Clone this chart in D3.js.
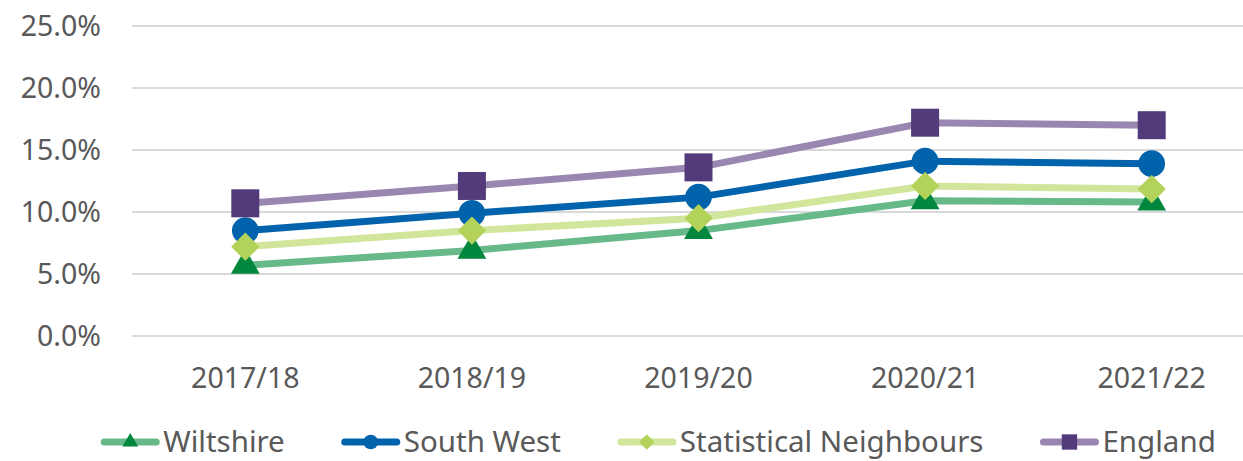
<!DOCTYPE html>
<html>
<head>
<meta charset="utf-8">
<script src="https://cdn.jsdelivr.net/npm/d3@7"></script>
<style>
  body { margin: 0; background: #fff; }
  text { font-family: "Noto Sans", "Open Sans", sans-serif; fill: #595959; }
</style>
</head>
<body>
<svg width="1243" height="461"></svg>
<script>
var years = ["2017/18", "2018/19", "2019/20", "2020/21", "2021/22"];
var wiltshire = [5.7, 6.9, 8.5, 10.9, 10.8];
var southWest = [8.5, 9.9, 11.2, 14.1, 13.9];
var statNeighbours = [7.2, 8.5, 9.5, 12.1, 11.85];
var england = [10.7, 12.1, 13.6, 17.2, 17.0];
var yTicks = [0, 5, 10, 15, 20, 25];

var series = [
  {name: "Wiltshire", values: wiltshire, line: "#67b98a", marker: "#00873e", symbol: d3.symbolTriangle, size: 360, rot: 0},
  {name: "South West", values: southWest, line: "#0063ab", marker: "#0063ab", symbol: d3.symbolCircle, size: 560, rot: 0},
  {name: "Statistical Neighbours", values: statNeighbours, line: "#d2e69b", marker: "#b3d25a", symbol: d3.symbolSquare, size: 400, rot: 45},
  {name: "England", values: england, line: "#9a87b1", marker: "#533a7b", symbol: d3.symbolSquare, size: 784, rot: 0}
];

var svg = d3.select("svg"),
    width = +svg.attr("width"),
    height = +svg.attr("height");

var x = d3.scalePoint()
    .domain(years)
    .range([132, 1265])
    .padding(0.5);

var y = d3.scaleLinear()
    .domain([0, 25])
    .range([336, 26]);

// gridlines
svg.append("g")
  .selectAll("line")
  .data(yTicks)
  .enter().append("line")
    .attr("x1", 132)
    .attr("x2", width)
    .attr("y1", function(d){ return y(d); })
    .attr("y2", function(d){ return y(d); })
    .attr("stroke", "#d9d9d9")
    .attr("stroke-width", 2);

// y labels
svg.append("g")
  .selectAll("text")
  .data(yTicks)
  .enter().append("text")
    .attr("x", 101)
    .attr("y", function(d){ return y(d); })
    .attr("dy", "0.35em")
    .attr("text-anchor", "end")
    .attr("font-size", "28.5px")
    .text(function(d){ return d.toFixed(1) + "%"; });

// x labels
svg.append("g")
  .selectAll("text")
  .data(years)
  .enter().append("text")
    .attr("x", function(d){ return x(d); })
    .attr("y", 378)
    .attr("dy", "0.35em")
    .attr("text-anchor", "middle")
    .attr("font-size", "28.5px")
    .text(function(d){ return d; });

var line = d3.line()
    .x(function(d, i){ return x(years[i]); })
    .y(function(d){ return y(d); });

series.forEach(function(s) {
  var g = svg.append("g");
  g.append("path")
      .attr("d", line(s.values))
      .attr("fill", "none")
      .attr("stroke", s.line)
      .attr("stroke-width", 7);
  g.selectAll(".pt")
    .data(s.values)
    .enter().append("path")
      .attr("class", "pt")
      .attr("transform", function(d, i){ return "translate(" + x(years[i]) + "," + y(d) + ") rotate(" + s.rot + ")"; })
      .attr("d", d3.symbol().type(s.symbol).size(s.size))
      .attr("fill", s.marker);
});

// legend
var legend = svg.append("g");
var items = legend.selectAll("g")
  .data(series)
  .enter().append("g");

items.append("line")
    .attr("x1", 3).attr("x2", 55)
    .attr("y1", 0).attr("y2", 0)
    .attr("stroke", function(d){ return d.line; })
    .attr("stroke-width", 7)
    .attr("stroke-linecap", "round");

items.append("path")
    .attr("transform", function(d){ return "translate(29,0) rotate(" + d.rot + ")"; })
    .attr("d", function(d){ return d3.symbol().type(d.symbol).size(d.size * 0.3)(); })
    .attr("fill", function(d){ return d.marker; });

items.append("text")
    .attr("x", 62)
    .attr("dy", "0.35em")
    .attr("font-size", "29.5px")
    .text(function(d){ return d.name; });

var pos = 0;
items.each(function() {
  var w = this.getBBox().width;
  d3.select(this).attr("transform", "translate(" + pos + ",442)");
  pos += w + 60;
});
var total = pos - 60;
legend.attr("transform", "translate(" + (657 - total / 2) + ",0)");
</script>
</body>
</html>
